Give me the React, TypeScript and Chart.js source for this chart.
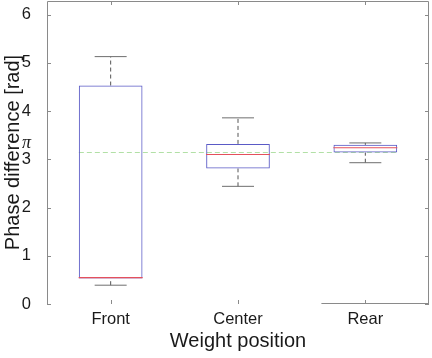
import React, { useEffect, useRef } from "react";
import { Chart, registerables } from "chart.js";

Chart.register(...registerables);

const categories = ["Front", "Center", "Rear"];
const whiskerLow = [0.39, 2.44, 2.93];
const q1 = [0.53, 2.81, 3.14];
const median = [0.545, 3.1, 3.24];
const q3 = [4.53, 3.32, 3.3];
const whiskerHigh = [5.13, 3.86, 3.34];
const yTicks = [0, 1, 2, 3, Math.PI, 4, 5, 6];
const xTitle = "Weight position";
const yTitle = "Phase difference [rad]";

const frame = {
  id: "frame",
  afterDraw(chart: any) {
    const { ctx, chartArea } = chart;
    const { left, right, top, bottom } = chartArea;
    const xs = chart.scales.x;
    const ys = chart.scales.y;
    ctx.save();
    ctx.strokeStyle = "#8a8a8a";
    ctx.lineWidth = 1;
    ctx.beginPath();
    ctx.moveTo(left + 0.5, bottom);
    ctx.lineTo(left + 0.5, top + 0.5);
    ctx.lineTo(right - 0.5, top + 0.5);
    ctx.lineTo(right - 0.5, bottom);
    const start = xs.getPixelForValue(1.655);
    ctx.moveTo(start, bottom - 0.5);
    ctx.lineTo(right, bottom - 0.5);
    yTicks.forEach((v) => {
      if (v !== Math.round(v)) return;
      const p = Math.round(ys.getPixelForValue(v)) + 0.5;
      ctx.moveTo(left, p);
      ctx.lineTo(left + 4, p);
      ctx.moveTo(right, p);
      ctx.lineTo(right - 4, p);
    });
    categories.forEach((_, i) => {
      const p = Math.round(xs.getPixelForValue(i)) + 0.5;
      ctx.moveTo(p, top);
      ctx.lineTo(p, top + 4);
      ctx.moveTo(p, bottom);
      ctx.lineTo(p, bottom - 4);
    });
    ctx.stroke();
    ctx.restore();
  },
};

export default function App() {
  const ref = useRef<HTMLCanvasElement>(null);
  useEffect(() => {
    if (!ref.current) return;
    const whiskers: any[] = [];
    categories.forEach((c, i) => {
      whiskers.push({
        type: "line",
        data: [
          { x: c, y: q3[i] },
          { x: c, y: whiskerHigh[i] },
        ],
        borderColor: "#555555",
        borderWidth: 1,
        borderDash: [4, 3],
        pointRadius: 0,
        order: 3,
      });
      whiskers.push({
        type: "line",
        data: [
          { x: c, y: whiskerLow[i] },
          { x: c, y: q1[i] },
        ],
        borderColor: "#555555",
        borderWidth: 1,
        borderDash: [4, 3],
        pointRadius: 0,
        order: 3,
      });
    });
    const chart = new Chart(ref.current, {
      type: "bar",
      data: {
        labels: categories,
        datasets: [
          {
            type: "line",
            xAxisID: "x2",
            data: [
              { x: 0, y: Math.PI },
              { x: 1, y: Math.PI },
            ],
            borderColor: "#b2e0a6",
            borderWidth: 1.2,
            borderDash: [5, 3],
            pointRadius: 0,
            order: 5,
          } as any,
          ...whiskers,
          {
            type: "bar",
            data: categories.map((_, i) => [q1[i], q3[i]]),
            backgroundColor: "rgba(0,0,0,0)",
            borderColor: "#5a5ac6",
            borderWidth: 1,
            borderSkipped: false,
            grouped: false,
            categoryPercentage: 0.5,
            barPercentage: 1,
            order: 2,
          } as any,
          {
            type: "line",
            data: categories.map((c, i) => ({ x: c, y: whiskerHigh[i] })).concat(
              categories.map((c, i) => ({ x: c, y: whiskerLow[i] }))
            ),
            showLine: false,
            pointStyle: "line",
            pointRadius: 16,
            pointBorderColor: "#6e6e6e",
            pointBorderWidth: 1,
            order: 1,
          } as any,
          {
            type: "line",
            data: categories.map((c, i) => ({ x: c, y: median[i] })),
            showLine: false,
            pointStyle: "line",
            pointRadius: 32,
            pointBorderColor: "#e4505c",
            pointBorderWidth: 1.2,
            order: 0,
          } as any,
        ],
      },
      options: {
        animation: false,
        responsive: true,
        maintainAspectRatio: false,
        layout: { autoPadding: false, padding: { top: 1, right: 3, left: 0, bottom: 0 } },
        plugins: { legend: { display: false }, tooltip: { enabled: false } },
        scales: {
          x: {
            type: "category",
            grid: { display: false },
            border: { display: false },
            ticks: {
              color: "#1a1a1a",
              padding: -2,
              font: { family: "'Liberation Sans', Arial, sans-serif", size: 16.5 },
            },
            title: {
              display: true,
              text: xTitle,
              color: "#1a1a1a",
              padding: { top: 5, bottom: 5 },
              font: { family: "'Liberation Sans', Arial, sans-serif", size: 20 },
            },
            afterFit: (s: any) => {
              s.height = 54;
              s.paddingLeft = 0;
              s.paddingRight = 0;
            },
          },
          x2: { type: "linear", display: false, min: 0, max: 1 },
          y: {
            min: 0,
            max: 2 * Math.PI,
            grid: { display: false },
            border: { display: false },
            afterBuildTicks: (s: any) => {
              s.ticks = yTicks.map((v) => ({ value: v }));
            },
            ticks: {
              autoSkip: false,
              color: "#1a1a1a",
              padding: 8,
              callback: (v: any) => (v === Math.PI ? ["π", ""] : String(v)),
              font: (ctx: any) =>
                ctx.tick && ctx.tick.value === Math.PI
                  ? { family: "'Liberation Serif', 'Times New Roman', serif", style: "italic", size: 18, lineHeight: 1 }
                  : { family: "'Liberation Sans', Arial, sans-serif", size: 16.5 },
            },
            title: {
              display: true,
              text: yTitle,
              color: "#1a1a1a",
              padding: { top: 1, bottom: 1 },
              font: { family: "'Liberation Sans', Arial, sans-serif", size: 20 },
            },
            afterFit: (s: any) => {
              s.width = 47;
              s.paddingTop = 0;
              s.paddingBottom = 0;
            },
          },
        },
      } as any,
      plugins: [frame],
    });
    return () => chart.destroy();
  }, []);
  return (
    <div style={{ position: "fixed", left: 0, top: 0, width: 432, height: 358, background: "#fff" }}>
      <canvas ref={ref} />
    </div>
  );
}
